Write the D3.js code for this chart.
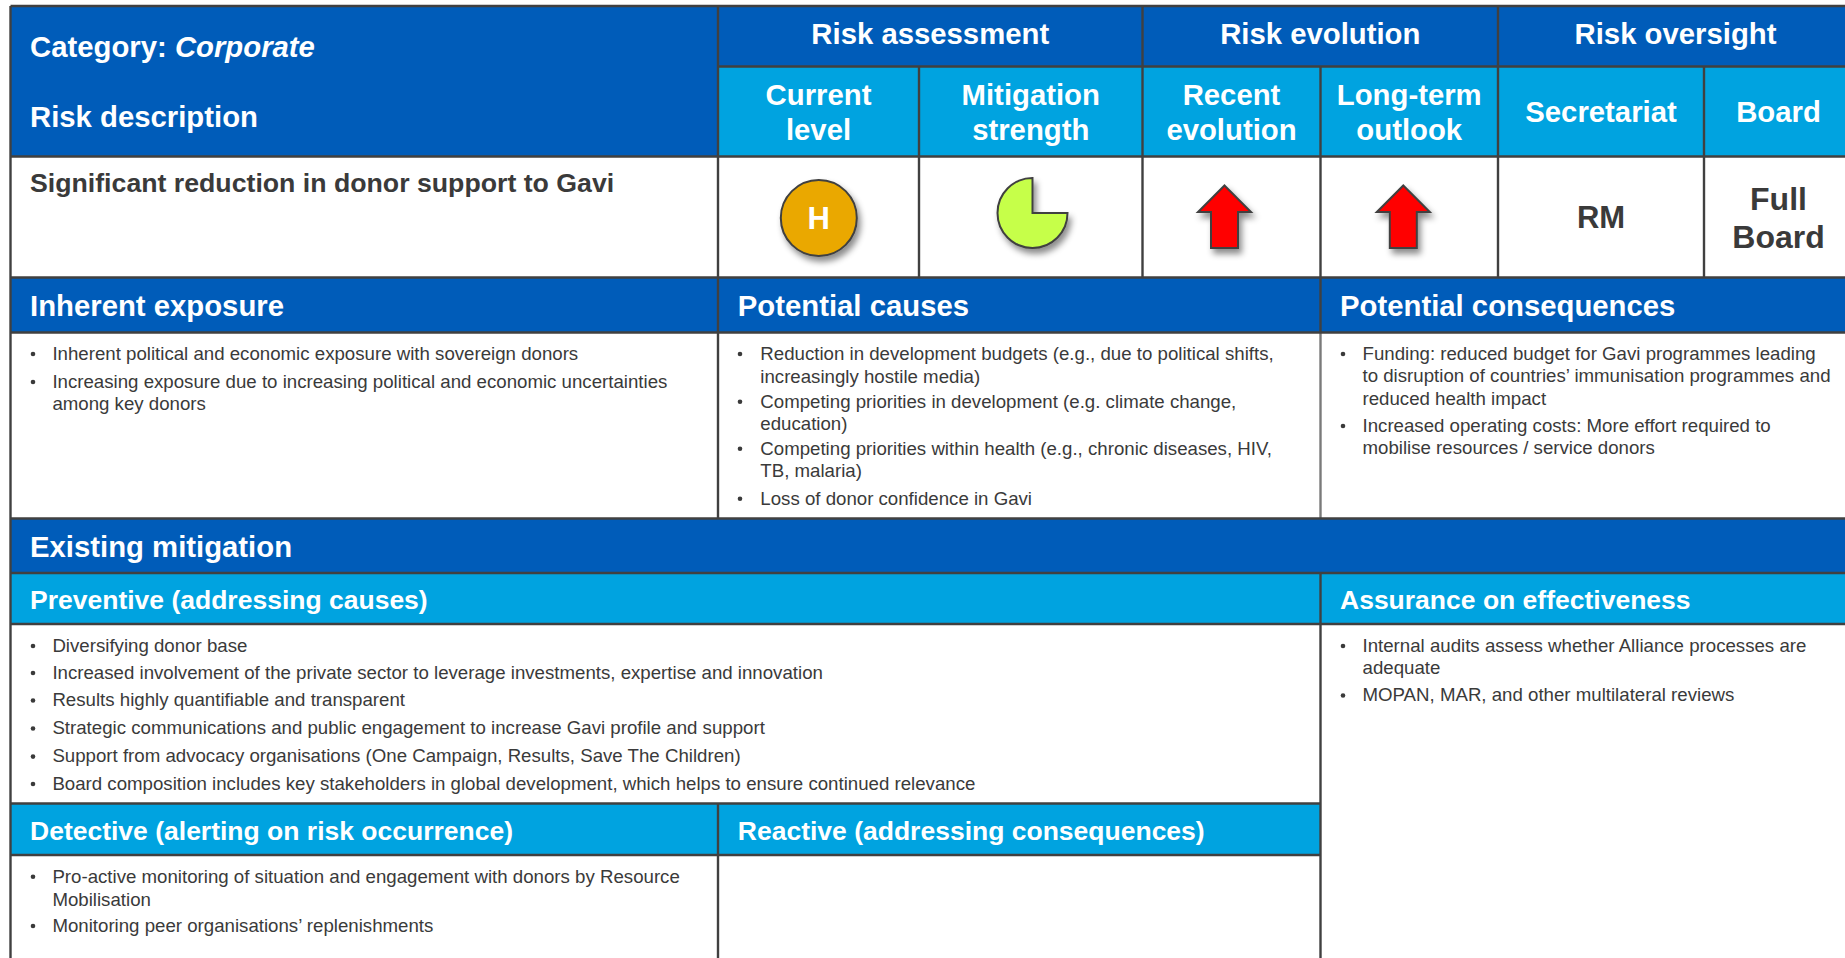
<!DOCTYPE html>
<html><head><meta charset="utf-8">
<script src="https://cdn.jsdelivr.net/npm/d3@7"></script>
<style>html,body{margin:0;padding:0;background:#fff;overflow:hidden}svg{display:block}text{font-family:"Liberation Sans",Arial,sans-serif}</style>
</head><body><div id="chart"></div>
<script>
// ---- content ----
const categoryLabel = "Category: ";
const categoryValue = "Corporate";
const riskDescriptionLabel = "Risk description";
const riskName = "Significant reduction in donor support to Gavi";
const groupHeaders = ["Risk assessment", "Risk evolution", "Risk oversight"];
const subHeaders = [["Current", "level"], ["Mitigation", "strength"], ["Recent", "evolution"], ["Long-term", "outlook"], ["Secretariat"], ["Board"]];
const currentLevel = "H";
const mitigationStrength = [0.75];
const evolutionArrows = ["up", "up"];
const oversight = [["RM"], ["Full", "Board"]];
const darkHeaders = ["Inherent exposure", "Potential causes", "Potential consequences", "Existing mitigation"];
const lightHeaders = ["Preventive (addressing causes)", "Assurance on effectiveness", "Detective (alerting on risk occurrence)", "Reactive (addressing consequences)"];
const inherentItems = [
  ["Inherent political and economic exposure with sovereign donors"],
  ["Increasing exposure due to increasing political and economic uncertainties", "among key donors"]];
const causesItems = [
  ["Reduction in development budgets (e.g., due to political shifts,", "increasingly hostile media)"],
  ["Competing priorities in development (e.g. climate change,", "education)"],
  ["Competing priorities within health (e.g., chronic diseases, HIV,", "TB, malaria)"],
  ["Loss of donor confidence in Gavi"]];
const consequencesItems = [
  ["Funding: reduced budget for Gavi programmes leading", "to disruption of countries\u2019 immunisation programmes and", "reduced health impact"],
  ["Increased operating costs: More effort required to", "mobilise resources / service donors"]];
const preventiveItems = [
  ["Diversifying donor base"],
  ["Increased involvement of the private sector to leverage investments, expertise and innovation"],
  ["Results highly quantifiable and transparent"],
  ["Strategic communications and public engagement to increase Gavi profile and support"],
  ["Support from advocacy organisations (One Campaign, Results, Save The Children)"],
  ["Board composition includes key stakeholders in global development, which helps to ensure continued relevance"]];
const assuranceItems = [
  ["Internal audits assess whether Alliance processes are", "adequate"],
  ["MOPAN, MAR, and other multilateral reviews"]];
const detectiveItems = [
  ["Pro-active monitoring of situation and engagement with donors by Resource", "Mobilisation"],
  ["Monitoring peer organisations\u2019 replenishments"]];

// ---- layout ----
const W = 1845, H = 958;
const DARK = "#005cb9", LIGHT = "#00a3e0", RULE = "#404040", SOFT = "#7a7a7a", INK = "#3a3a3a";
const X = {l:10.5, a:718, b:919, c:1142.5, d:1320.5, e:1498, f:1704, r:W+4};
const Y = {t:6, h1:66.5, h2:156.5, r:277.5, s:332.5, b1:518.5, m:573, p:624, q:803.5, v:855, z:H+4};
const SIZE = {head:29.3, name:26.7, sub:26.5, oversight:32, rm:31, body:18.67};

const svg = d3.select("#chart").append("svg").attr("width", W).attr("height", H);
const defs = svg.append("defs");
const f = defs.append("filter").attr("id","shadow").attr("x","-30%").attr("y","-30%").attr("width","170%").attr("height","170%");
f.append("feDropShadow").attr("dx",3).attr("dy",5).attr("stdDeviation",3).attr("flood-color","#000").attr("flood-opacity",0.45);

const fills = [
  [X.l,Y.t,X.a,Y.h2,DARK],[X.a,Y.t,X.r,Y.h1,DARK],[X.a,Y.h1,X.r,Y.h2,LIGHT],
  [X.l,Y.r,X.r,Y.s,DARK],[X.l,Y.b1,X.r,Y.m,DARK],[X.l,Y.m,X.r,Y.p,LIGHT],[X.l,Y.q,X.d,Y.v,LIGHT]];
svg.selectAll("rect.band").data(fills).join("rect").attr("class","band")
  .attr("x",d=>d[0]).attr("y",d=>d[1]).attr("width",d=>d[2]-d[0]).attr("height",d=>d[3]-d[1]).attr("fill",d=>d[4]);

const rules = [
  [X.l,Y.t,X.r,Y.t],[X.a,Y.h1,X.r,Y.h1],[X.l,Y.h2,X.r,Y.h2],[X.l,Y.r,X.r,Y.r],[X.l,Y.s,X.r,Y.s],
  [X.l,Y.b1,X.r,Y.b1],[X.l,Y.m,X.r,Y.m],[X.l,Y.p,X.r,Y.p],[X.l,Y.q,X.d,Y.q],[X.l,Y.v,X.d,Y.v],
  [X.l,Y.t,X.l,Y.z],[X.a,Y.t,X.a,Y.b1],[X.a,Y.q,X.a,Y.z],[X.b,Y.h1,X.b,Y.r],[X.c,Y.t,X.c,Y.r],
  [X.d,Y.h1,X.d,Y.s],[X.d,Y.m,X.d,Y.z],[X.e,Y.t,X.e,Y.r],[X.f,Y.h1,X.f,Y.r]];
svg.append("line").attr("x1",X.d).attr("y1",Y.s).attr("x2",X.d).attr("y2",Y.b1).attr("stroke",SOFT).attr("stroke-width",2.4);
svg.selectAll("line.rule").data(rules).join("line").attr("class","rule")
  .attr("x1",d=>d[0]).attr("y1",d=>d[1]).attr("x2",d=>d[2]).attr("y2",d=>d[3])
  .attr("stroke",RULE).attr("stroke-width",2.4);

function label(str,x,y,size,color,anchor,weight){
  return svg.append("text").attr("x",x).attr("y",y).attr("dy","0.35em").attr("font-size",size)
    .attr("fill",color).attr("text-anchor",anchor||"start").attr("font-weight",weight||"bold").text(str);
}
// header text
const cat = label(categoryLabel,30,47,SIZE.head,"#fff").style("white-space","pre");
cat.append("tspan").attr("font-style","italic").text(categoryValue);
label(riskDescriptionLabel,30,116.5,SIZE.head,"#fff");
label(riskName,30,182.5,SIZE.name,INK);
const groupCx = [(X.a+X.c)/2,(X.c+X.e)/2,(X.e+1845+8)/2];
groupHeaders.forEach((t,i)=>label(t,groupCx[i],34,SIZE.head,"#fff","middle"));
const subCx = [(X.a+X.b)/2,(X.b+X.c)/2,(X.c+X.d)/2,(X.d+X.e)/2,(X.e+X.f)/2,(X.f+1845+8)/2];
subHeaders.forEach((lines,i)=>{
  const ys = lines.length===2 ? [95,130] : [112];
  lines.forEach((t,j)=>label(t,subCx[i],ys[j],SIZE.head,"#fff","middle"));
});
// oversight
oversight.forEach((lines,i)=>{
  const ys = lines.length===2 ? [198.5,236.5] : [217.5];
  lines.forEach((t,j)=>label(t,subCx[4+i],ys[j],lines.length===2?SIZE.oversight:SIZE.rm,INK,"middle"));
});
// glyphs
svg.append("circle").attr("cx",818.8).attr("cy",218).attr("r",38).attr("fill","#eaa800").attr("stroke",RULE).attr("stroke-width",2).attr("filter","url(#shadow)");
label(currentLevel,818.8,218.5,31,"#fff","middle");
const pieArc = d3.arc().innerRadius(0).outerRadius(35);
svg.selectAll("path.pie").data(mitigationStrength).join("path").attr("class","pie")
  .attr("transform","translate(1032.5,213)")
  .attr("d",v=>pieArc({startAngle:Math.PI/2,endAngle:Math.PI/2+v*2*Math.PI}))
  .attr("fill","#c6ff4a").attr("stroke",RULE).attr("stroke-width",2).attr("filter","url(#shadow)");
const arrowLine = d3.line();
const arrowShape = [[0,-32.5],[26.5,-6],[13.5,-6],[13.5,30],[-13.5,30],[-13.5,-6],[-26.5,-6]];
const arrowCx = [1224.5,1403.3];
svg.selectAll("path.arrow").data(evolutionArrows).join("path").attr("class","arrow")
  .attr("transform",(d,i)=>`translate(${arrowCx[i]},218)`+(d==="up"?"":" rotate(180)"))
  .attr("d",arrowLine(arrowShape)+"Z").attr("fill","#ff0000").attr("stroke",RULE).attr("stroke-width",2).attr("stroke-linejoin","miter").attr("filter","url(#shadow)");
// section headers
[[0,30,306],[1,737.8,306],[2,1340,306],[3,30,547]].forEach(([i,x,y])=>label(darkHeaders[i],x,y,SIZE.head,"#fff"));
[[0,30,600],[1,1340,600],[2,30,830.5],[3,737.8,830.5]].forEach(([i,x,y])=>label(lightHeaders[i],x,y,SIZE.sub,"#fff"));
// bullets
function bullets(items,bx,tx,ys){
  let k=0;
  items.forEach(lines=>{
    svg.append("circle").attr("cx",bx).attr("cy",ys[k]).attr("r",2.3).attr("fill",INK);
    lines.forEach(t=>{label(t,tx,ys[k]-0.7,SIZE.body,INK,"start","normal");k++;});
  });
}
bullets(inherentItems,33,52.4,[354,382,404]);
bullets(causesItems,740,760.3,[354,376.7,401.7,424,448.7,470.7,498.7]);
bullets(consequencesItems,1343,1362.5,[354,376.5,399,426,448.5]);
bullets(preventiveItems,33,52.4,[646,673,700.5,728.5,756.6,784]);
bullets(assuranceItems,1343,1362.5,[646,668.5,695.5]);
bullets(detectiveItems,33,52.4,[876.7,900,926]);
</script></body></html>
